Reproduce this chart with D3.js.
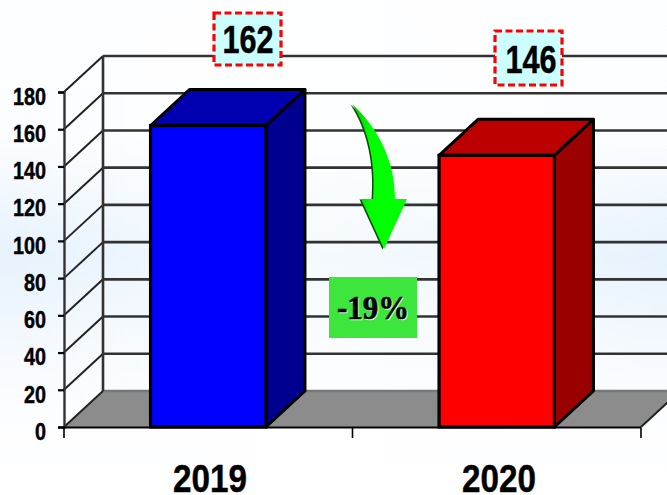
<!DOCTYPE html>
<html><head><meta charset="utf-8">
<script src="https://cdn.jsdelivr.net/npm/d3@7"></script>
<style>html,body{margin:0;padding:0;background:#fff}svg{display:block}text{font-family:"Liberation Sans",Arial,sans-serif;font-weight:bold;fill:#000;stroke:#000;stroke-width:0.45px}</style>
</head><body><div id="c"></div>
<script>
const categories = ["2019","2020"];
const values = [162,146];
const frontColors = ["#0000ff","#ff0000"];
const topColors = ["#0000b0","#bb0000"];
const sideColors = ["#00008e","#9b0000"];
const yTicks = [0,20,40,60,80,100,120,140,160,180];
const changeLabel = "-19%";

const W=667,H=495,dx=39,dy=36;
const svg=d3.select("#c").append("svg").attr("width",W).attr("height",H);
const defs=svg.append("defs");
const bg=defs.append("linearGradient").attr("id","bg").attr("x1",0).attr("y1",0).attr("x2",0).attr("y2",1);
[[0,"#fdfeff"],[0.28,"#fbfdff"],[0.52,"#e6f2fc"],[0.62,"#eef6fd"],[0.82,"#fcfdff"],[1,"#ffffff"]].forEach(s=>bg.append("stop").attr("offset",s[0]).attr("stop-color",s[1]));
const ov=defs.append("linearGradient").attr("id","ov").attr("x1",0).attr("y1",0).attr("x2",1).attr("y2",0);
[[0,0],[0.45,0.6],[0.7,0.4],[1,0]].forEach(s=>ov.append("stop").attr("offset",s[0]).attr("stop-color","#fff").attr("stop-opacity",s[1]));
const gf=defs.append("filter").attr("id","soft");gf.append("feGaussianBlur").attr("stdDeviation",0.55);
const ag=defs.append("linearGradient").attr("id","ag").attr("x1",0).attr("y1",0).attr("x2",1).attr("y2",0);
[[0,"#00c800"],[0.35,"#00ff00"],[1,"#00ff00"]].forEach(s=>ag.append("stop").attr("offset",s[0]).attr("stop-color",s[1]));
svg.append("rect").attr("width",W).attr("height",H).attr("fill","url(#bg)");
svg.append("rect").attr("width",W).attr("height",H).attr("fill","url(#ov)");

const y=d3.scaleLinear().domain([0,180]).range([427,92]);
const x=d3.scaleBand().domain(categories).range([64,641]).paddingInner(0.6).paddingOuter(0.3);
const plot=svg.append("g").attr("filter","url(#soft)");

plot.append("path").attr("d",d3.line()([[64,y(0)],[64+dx,y(0)-dy],[641+dx,y(0)-dy],[641,y(0)]])+"Z").attr("fill","#8c8c8c");
const gridVals=yTicks;
plot.selectAll(".gb").data(gridVals).join("line").attr("x1",64+dx).attr("x2",W)
  .attr("y1",d=>y(d)-dy).attr("y2",d=>y(d)-dy).attr("stroke",d=>d===0?"#777":"#333").attr("stroke-width",2.6);
plot.selectAll(".gs").data(gridVals).join("line").attr("x1",64).attr("x2",64+dx)
  .attr("y1",d=>y(d)).attr("y2",d=>y(d)-dy).attr("stroke","#222").attr("stroke-width",2);
plot.append("line").attr("x1",64+dx).attr("x2",64+dx).attr("y1",y(180)-dy).attr("y2",y(0)-dy).attr("stroke","#333").attr("stroke-width",2.6);
plot.append("line").attr("x1",641).attr("x2",641+dx).attr("y1",y(0)).attr("y2",y(0)-dy).attr("stroke","#222").attr("stroke-width",2);

const bars=plot.selectAll(".b").data(categories).join("g");
const bw=x.bandwidth();
bars.append("path").attr("d",(c,i)=>{const a=x(c),t=y(values[i]);return d3.line()([[a,t],[a+dx,t-dy],[a+bw+dx,t-dy],[a+bw,t]])+"Z";})
  .attr("fill",(c,i)=>topColors[i]).attr("stroke","#000").attr("stroke-width",3).attr("stroke-linejoin","round");
bars.append("path").attr("d",(c,i)=>{const a=x(c)+bw,t=y(values[i]);return d3.line()([[a,t],[a+dx,t-dy],[a+dx,y(0)-dy],[a,y(0)]])+"Z";})
  .attr("fill",(c,i)=>sideColors[i]).attr("stroke","#000").attr("stroke-width",3).attr("stroke-linejoin","round");
bars.append("rect").attr("x",c=>x(c)).attr("y",(c,i)=>y(values[i])).attr("width",bw).attr("height",(c,i)=>y(0)-y(values[i]))
  .attr("fill",(c,i)=>frontColors[i]).attr("stroke","#000").attr("stroke-width",3.2);

const yAxis=d3.axisLeft(y).tickValues(yTicks).tickSize(6).tickPadding(12);
const ga=svg.append("g").attr("transform","translate(64,0)").call(yAxis);
ga.select(".domain").attr("stroke","#333").attr("stroke-width",2.4);
ga.selectAll(".tick line").attr("stroke","#000").attr("stroke-width",2.2);
ga.selectAll(".tick text").style("font-size","23px").attr("y",3.5).attr("dy","0.38em").attr("fill","#000")
  .attr("textLength",d=>String(d).length*11).attr("lengthAdjust","spacingAndGlyphs");
const xt=d3.scalePoint().domain(d3.range(categories.length+1)).range([64,641]);
const gb=svg.append("g").attr("transform","translate(0,427.5)");
gb.selectAll("line.t").data(xt.domain()).join("line").attr("class","t").attr("x1",d=>xt(d)).attr("x2",d=>xt(d)).attr("y1",0).attr("y2",10.5).attr("stroke","#000").attr("stroke-width",1.6);
gb.append("line").attr("x1",64).attr("x2",641).attr("y1",0).attr("y2",0).attr("stroke","#000").attr("stroke-width",2.2);
const catX=[210,499];
svg.selectAll(".cat").data(categories).join("text").attr("class","cat").attr("x",(c,i)=>catX[i]).attr("y",492)
  .attr("text-anchor","middle").style("font-size","39px").attr("textLength",74).attr("lengthAdjust","spacingAndGlyphs").text(c=>c);

const boxes=[[214,13,67,52],[495,31,67,54]];
const tx=[248,531],ty=[53,73];
const vg=svg.selectAll(".v").data(values).join("g");
vg.append("rect").attr("x",(d,i)=>boxes[i][0]).attr("y",(d,i)=>boxes[i][1]).attr("width",(d,i)=>boxes[i][2]).attr("height",(d,i)=>boxes[i][3])
  .attr("fill","#ccffff").attr("stroke","#ff0000").attr("stroke-width",3.2).attr("stroke-dasharray","7 3.5");
vg.append("text").attr("x",(d,i)=>tx[i]).attr("y",(d,i)=>ty[i]).attr("text-anchor","middle").style("font-size","38px")
  .attr("textLength",51).attr("lengthAdjust","spacingAndGlyphs").text(d=>d);

const arrow="M352,104C378,128 395,160 395,199L407,199L384,249L361,199L373,199C376,165 369,130 352,104Z";
svg.append("path").attr("d",arrow).attr("fill","#0a4a0a").attr("transform","translate(-1.5,0.5)").attr("filter","url(#soft)");
svg.append("path").attr("d",arrow).attr("fill","url(#ag)").attr("filter","url(#soft)");

svg.append("rect").attr("x",329).attr("y",277).attr("width",88).attr("height",61).attr("fill","#3de63d");
const lab=(col,ox,oy,sw)=>svg.append("text").attr("x",373+ox).attr("y",319+oy).attr("text-anchor","middle")
  .style("font-family","'Liberation Serif',serif").style("font-size","33px").style("fill",col).style("stroke",col).style("stroke-width",sw)
  .attr("textLength",72).attr("lengthAdjust","spacingAndGlyphs").text(changeLabel);
lab("#d8f5d8",1,1,"0.4px");lab("#000",0,0,"0.6px");
</script></body></html>
